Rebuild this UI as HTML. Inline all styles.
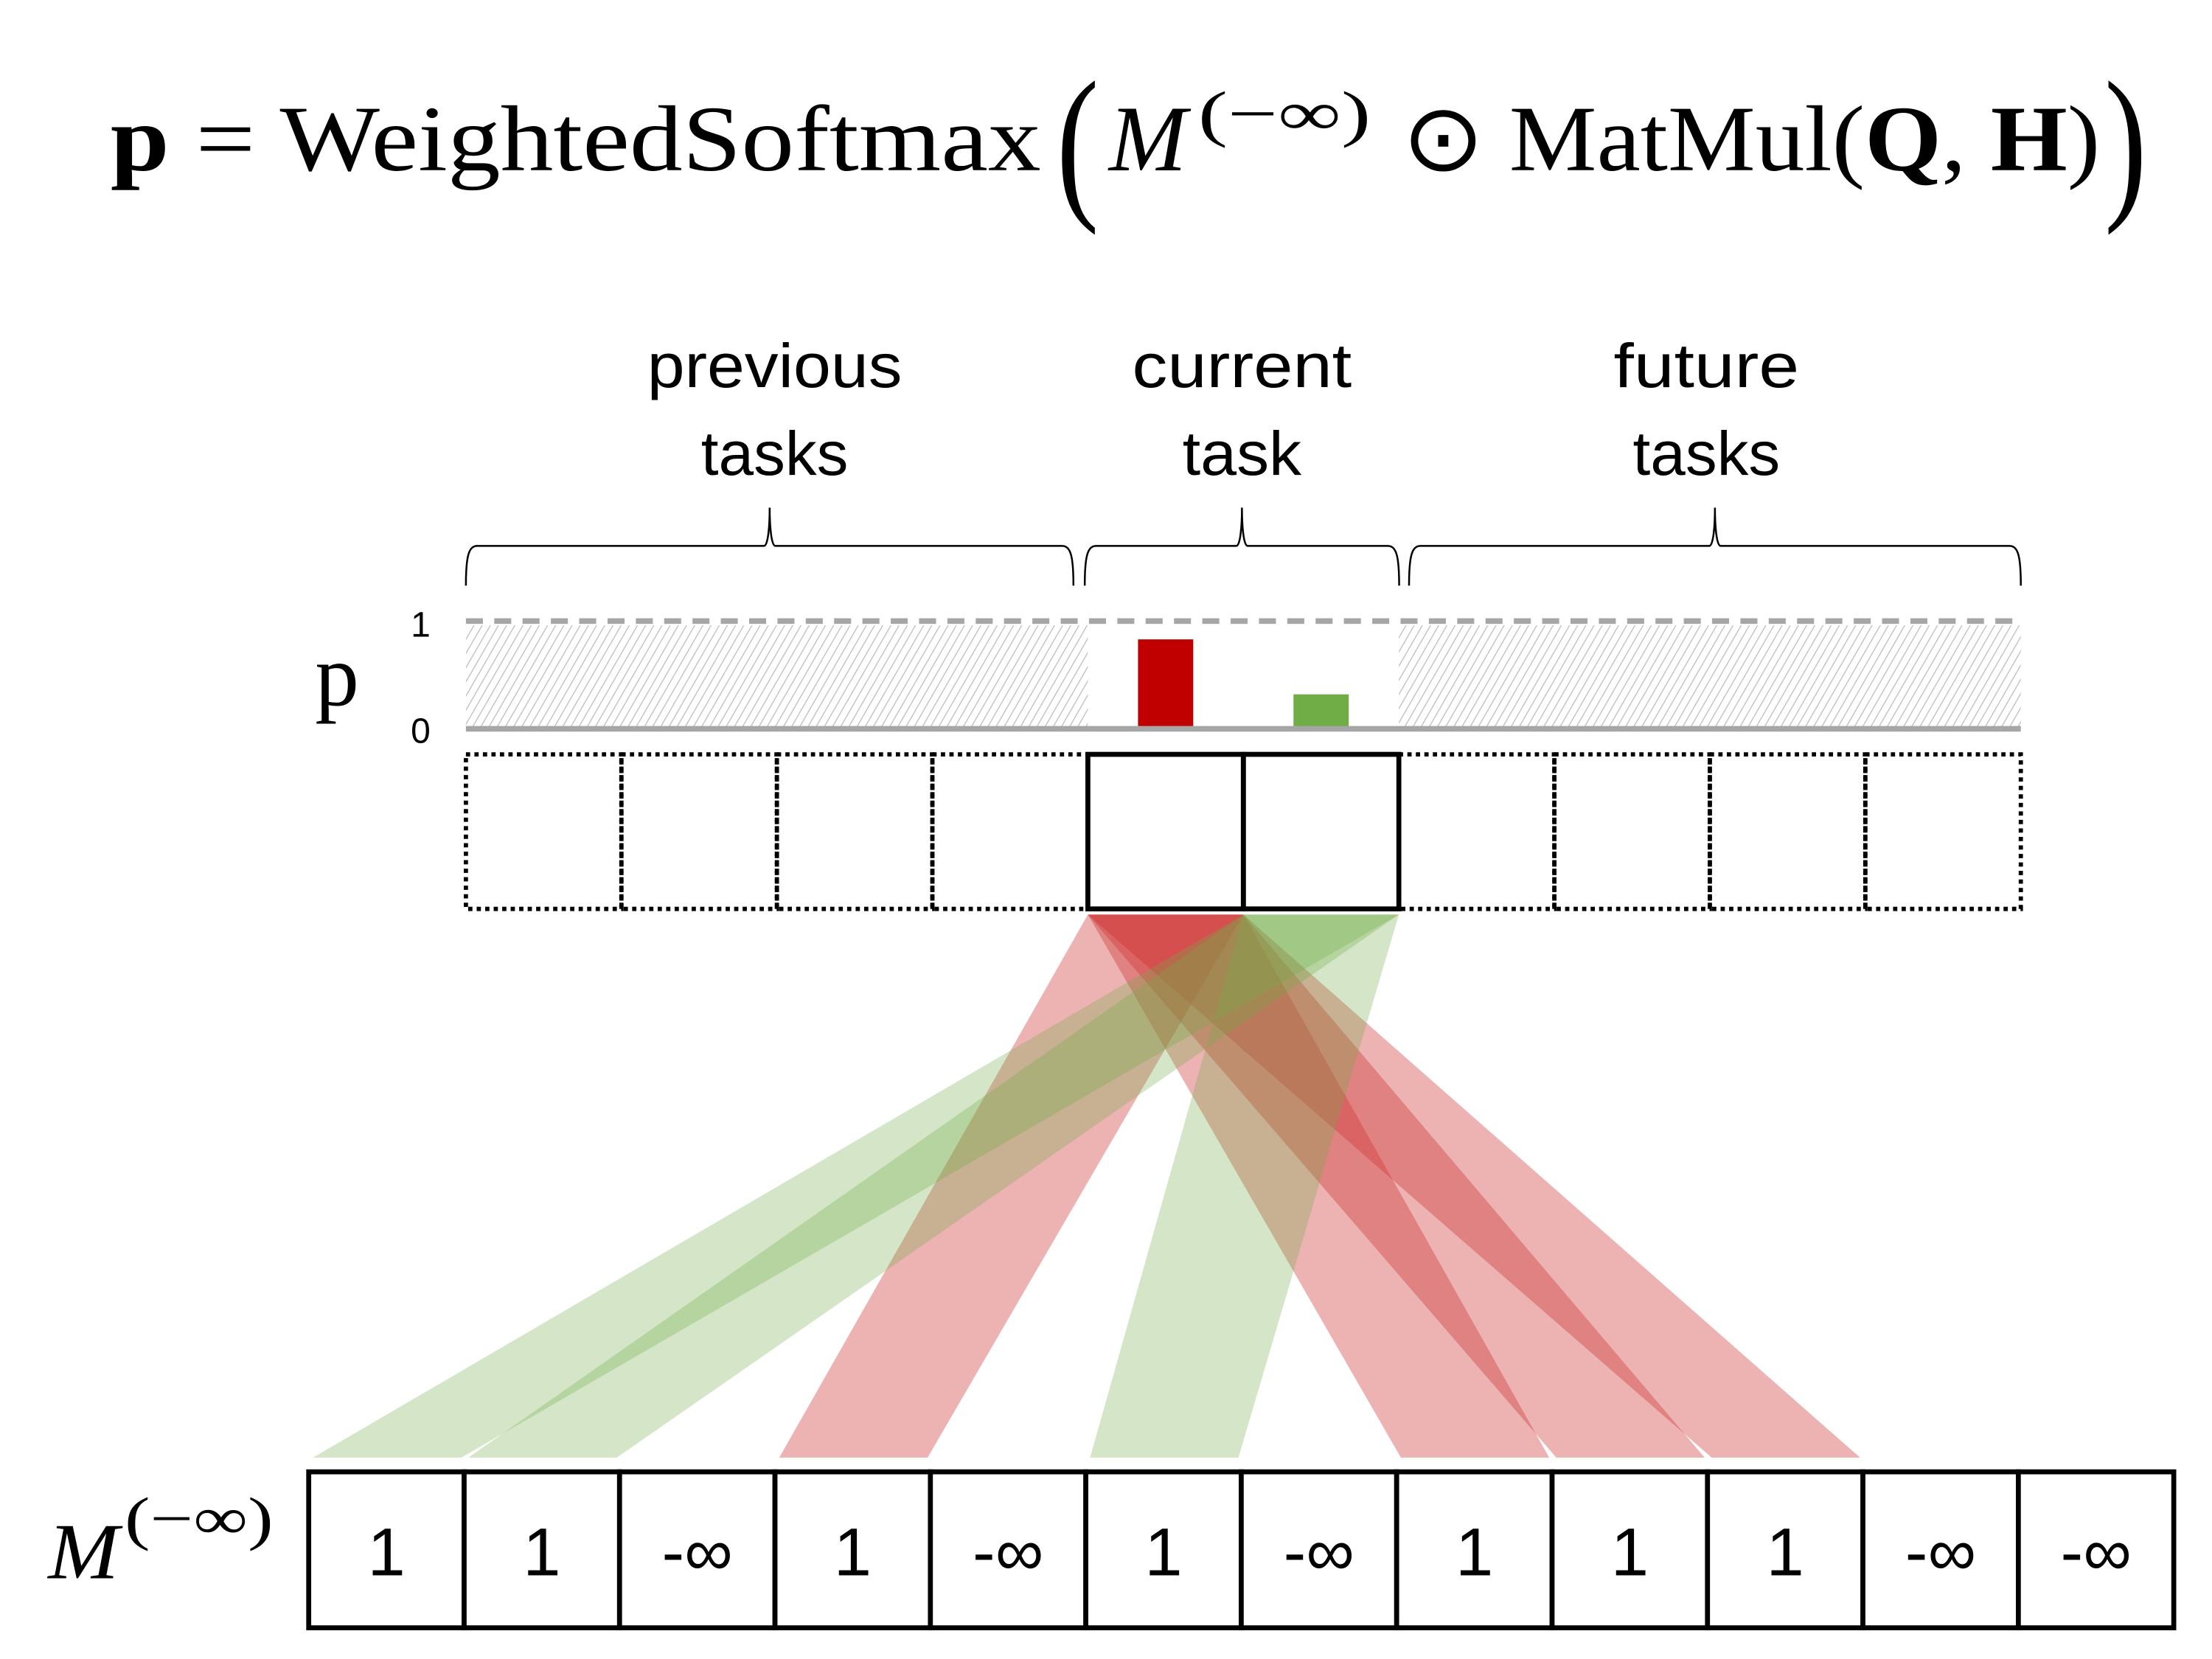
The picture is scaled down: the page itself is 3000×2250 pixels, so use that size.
<!DOCTYPE html>
<html><head><meta charset="utf-8"><style>
html,body{margin:0;padding:0;background:#fff;}
svg{display:block;}
</style></head><body>
<svg id="fig" width="3000" height="2250" viewBox="0 0 1562 1170" preserveAspectRatio="none" xmlns="http://www.w3.org/2000/svg">
<defs>
<pattern id="hatch" width="5" height="5" patternUnits="userSpaceOnUse" patternTransform="rotate(30)">
<rect width="5" height="5" fill="#fff"/>
<line x1="0" y1="0" x2="0" y2="5" stroke="#bfbfbf" stroke-width="1.4"/>
</pattern>
</defs>
<g font-family="Liberation Serif, serif" font-size="66">
<text x="78" y="120" textLength="657" lengthAdjust="spacingAndGlyphs"><tspan font-weight="bold">p</tspan> = WeightedSoftmax</text>
<text x="746" y="140" font-size="120" font-weight="100" textLength="30" lengthAdjust="spacingAndGlyphs">(</text>
<text x="783" y="120" font-style="italic" textLength="55" lengthAdjust="spacingAndGlyphs">M</text>
<text x="846" y="95" font-size="44" textLength="122" lengthAdjust="spacingAndGlyphs">(−∞)</text>
<text x="990" y="120" textLength="493" lengthAdjust="spacingAndGlyphs">⊙ MatMul(<tspan font-weight="bold">Q</tspan>, <tspan font-weight="bold">H</tspan>)</text>
<text x="1486" y="140" font-size="120" textLength="30" lengthAdjust="spacingAndGlyphs">)</text>
</g>
<g id="labels" font-family="Liberation Sans, sans-serif" font-size="44" text-anchor="middle">
<text x="547" y="273" textLength="180" lengthAdjust="spacingAndGlyphs">previous</text>
<text x="547" y="335" textLength="104" lengthAdjust="spacingAndGlyphs">tasks</text>
<text x="877" y="273" textLength="155" lengthAdjust="spacingAndGlyphs">current</text>
<text x="877" y="335" textLength="84" lengthAdjust="spacingAndGlyphs">task</text>
<text x="1205" y="273" textLength="131" lengthAdjust="spacingAndGlyphs">future</text>
<text x="1205" y="335" textLength="104" lengthAdjust="spacingAndGlyphs">tasks</text>
</g>
<g id="braces" fill="none" stroke="#000" stroke-width="1.3"></g>
<g id="beams"></g>
<g id="pchart"></g>
<g id="cells"></g>
<g id="mask"></g>
<text x="238" y="497" font-family="Liberation Serif, serif" font-size="62" text-anchor="middle">p</text>
<text x="297" y="449" font-family="Liberation Sans, sans-serif" font-size="25" text-anchor="middle">1</text>
<text x="297" y="524" font-family="Liberation Sans, sans-serif" font-size="25" text-anchor="middle">0</text>
<text x="34" y="1113" font-family="Liberation Serif, serif" font-size="56" font-style="italic" textLength="50" lengthAdjust="spacingAndGlyphs">M</text>
<text x="88" y="1085" font-family="Liberation Serif, serif" font-size="42" textLength="105" lengthAdjust="spacingAndGlyphs">(−∞)</text>
</svg>
<script>
const maskValues = ["1","1","-∞","1","-∞","1","-∞","1","1","1","-∞","-∞"];
const probCells = [4, 5];
const probValues = [0.83, 0.32];
const probColors = ["#c00000", "#70ad47"];
const redTargets = [3, 7, 8, 9];
const greenTargets = [0, 1, 5];
const NS = "http://www.w3.org/2000/svg";
function mk(tag, attrs, parent){const e=document.createElementNS(NS,tag);for(const k in attrs)e.setAttribute(k,attrs[k]);parent.appendChild(e);return e;}
const topX0=329, topW=109.8, nTop=10;
const botX0=218, botW=109.75;
const yP0=514, yP1=438;
const yScale = v => yP0 - v*(yP0-yP1);
const topX = i => topX0 + i*topW;
const botX = i => botX0 + i*botW;
const br=document.getElementById('braces');
[[329,758],[766,988],[995,1427]].forEach((b,i)=>{
 const m=(b[0]+b[1])/2, y=385;
 const p=mk('path',{d:`M${b[0]},413 C${b[0]},392 ${b[0]+2},${y} ${b[0]+8},${y} L${m-4},${y} C${m-1},${y} ${m},370 ${m},358 C${m},370 ${m+1},${y} ${m+4},${y} L${b[1]-8},${y} C${b[1]-2},${y} ${b[1]},392 ${b[1]},413`},br);
 
 
});
const pc=document.getElementById('pchart');
let h1=mk('rect',{x:topX(0),y:yScale(1)+3,width:topX(4)-topX(0),height:yScale(0)-yScale(1)-3,fill:'url(#hatch)'},pc);


let h2=mk('rect',{x:topX(6),y:yScale(1)+3,width:topX(10)-topX(6),height:yScale(0)-yScale(1)-3,fill:'url(#hatch)'},pc);


let dl=mk('line',{x1:topX(0),x2:topX(10),y1:yScale(1),y2:yScale(1),stroke:'#a6a6a6','stroke-width':4,'stroke-dasharray':'12 8'},pc);


probValues.forEach((v,i)=>{
 const cx=topX(probCells[i])+topW/2;
 const r=mk('rect',{x:cx-19.5,y:yScale(v),width:39,height:yScale(0)-yScale(v),fill:probColors[i]},pc);
 
 
});
let bl=mk('line',{x1:topX(0),x2:topX(10),y1:yScale(0),y2:yScale(0),stroke:'#a6a6a6','stroke-width':4},pc);


const cg=document.getElementById('cells');
for(let i=0;i<nTop;i++){
 if(probCells.includes(i)) continue;
 const r=mk('rect',{x:topX(i),y:532,width:topW,height:109,fill:'none',stroke:'#000','stroke-width':3,'stroke-dasharray':'3 3'},cg);
 
 
}
probCells.forEach(i=>{
 const r=mk('rect',{x:topX(i),y:532,width:topW,height:109,fill:'none',stroke:'#000','stroke-width':3.5},cg);
 
 
});
const bg=document.getElementById('beams');
function beams(src, targets, color){
 targets.forEach(t=>{
  const p=mk('polygon',{points:`${topX(src)},645 ${topX(src)+topW},645 ${botX(t)+botW-2},1028 ${botX(t)+3},1028`,fill:color},bg);
  
  
 });
}
beams(probCells[0], redTargets, 'rgba(204,45,45,0.36)');
beams(probCells[1], greenTargets, 'rgba(112,173,71,0.3)');
const mg=document.getElementById('mask');
maskValues.forEach((v,i)=>{
 const r=mk('rect',{x:botX(i),y:1038,width:botW,height:110,fill:'#fff',stroke:'#000','stroke-width':3.5},mg);
 
 
 const t=mk('text',{x:botX(i)+botW/2,y:1111,'font-family':'Liberation Sans, DejaVu Sans, sans-serif','font-size':48,'text-anchor':'middle'},mg);
 t.textContent=v;
 
 
});
</script>
</body></html>
